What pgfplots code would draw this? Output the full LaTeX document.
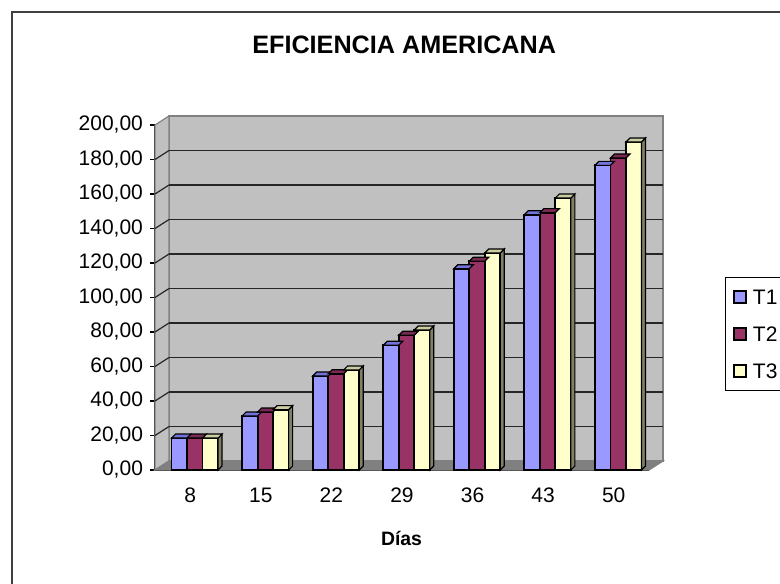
\documentclass[border=0pt]{standalone}
\usepackage{pgfplots}
\usepackage{pgfplotstable}
\pgfplotsset{compat=1.18}
\usepackage{fontspec}
\setmainfont{Liberation Sans}
\definecolor{cA}{HTML}{9999FF}
\definecolor{cB}{HTML}{993366}
\definecolor{cC}{HTML}{FFFFCC}
\definecolor{cAtop}{HTML}{7373D9}
\definecolor{cBtop}{HTML}{7A2952}
\definecolor{cCtop}{HTML}{CCCCA3}
\definecolor{cCside}{HTML}{808066}
\definecolor{wall}{HTML}{C0C0C0}
\definecolor{floorc}{HTML}{808080}

\pgfplotstableread{
x T1 T2 T3
0 18.5 18.5 18.5
1 31.3 33.6 35.0
2 54.5 55.8 58.0
3 72.3 78.1 81.2
4 116.7 121.0 125.8
5 148.0 149.2 157.7
6 176.6 180.9 190.1
}\data

\pgfdeclareplotmark{faceA}{%
  \filldraw[fill=cAtop, draw=black, line width=0.6pt] (-9.375pt,0pt) -- (-1.625pt,0pt) -- (0.375pt,2pt) -- (-7.375pt,2pt) -- cycle;
}
\pgfdeclareplotmark{faceB}{%
  \filldraw[fill=cBtop, draw=black, line width=0.6pt] (-1.625pt,0pt) -- (6.125pt,0pt) -- (8.125pt,2pt) -- (0.375pt,2pt) -- cycle;
}
\pgfdeclareplotmark{faceC}{%
  \pgfmathsetlengthmacro\hh{\ry*0.8625pt}%
  \filldraw[fill=cCside, draw=black, line width=0.6pt] (13.875pt,0pt) -- (15.875pt,2pt) -- (15.875pt,2pt-\hh) -- (13.875pt,-\hh) -- cycle;
  \filldraw[fill=cCtop, draw=black, line width=0.6pt] (6.125pt,0pt) -- (13.875pt,0pt) -- (15.875pt,2pt) -- (8.125pt,2pt) -- cycle;
}

\begin{document}
\begin{tikzpicture}
\useasboundingbox (0,0) rectangle (390pt,291.5pt);
\draw[line width=1pt, color=black!75] (6pt,285.5pt) rectangle (400pt,-10pt);
\node[font=\fontsize{12.6}{14}\selectfont\bfseries, anchor=base] at (202.1pt,264.5pt) {EFICIENCIA AMERICANA};
\node[font=\fontsize{9.7}{11}\selectfont\bfseries, anchor=base] at (200.75pt,19pt) {Días};
\begin{axis}[
  at={(77.5pt,56.5pt)}, anchor=south west,
  scale only axis, width=247pt, height=172.5pt,
  xmin=-0.5, xmax=6.5, ymin=0, ymax=200,
  clip=false,
  axis lines*=left,
  axis line style={black, line width=0.6pt},
  xtick={0,...,6},
  xticklabels={8,15,22,29,36,43,50},
  xticklabel style={yshift=-3pt},
  major x tick style={draw=none},
  extra x ticks={-0.5,0.5,...,6.5},
  extra x tick labels={},
  extra x tick style={major tick length=3.25pt, tick align=outside, major tick style={draw=black, line width=0.6pt}},
  ytick={0,20,...,200},
  y tick style={black, line width=0.6pt},
  major tick length=2.5pt,
  tick align=outside,
  /pgf/number format/assume math mode=true,
  yticklabel={\pgfmathprintnumber[fixed, fixed zerofill, precision=2, use comma, 1000 sep={}]{\tick}},
  tick label style={font=\fontsize{10.5}{12}\selectfont},
  legend style={at={(axis description cs:1.1538,0.5594)}, anchor=north west, draw=black, line width=0.5pt,
    font=\fontsize{10.5}{12}\selectfont, inner xsep=4pt, inner ysep=6pt, row sep=11pt,
    nodes={inner sep=0pt, text height=7.5pt, text depth=0pt}},
  legend cell align=left,
  legend image code/.code={\draw[#1, draw=black, line width=0.6pt] (0pt,-3pt) rectangle (6pt,3pt); \path (9pt,0pt);},
]
  \filldraw[fill=wall, draw=floorc, line width=0.6pt] ([shift={(7pt,4.5pt)}]axis cs:-0.5,0) rectangle ([shift={(7pt,4.5pt)}]axis cs:6.5,200);
  \filldraw[fill=wall, draw=floorc, line width=0.6pt] (axis cs:-0.5,0) -- (axis cs:-0.5,200) -- ([shift={(7pt,4.5pt)}]axis cs:-0.5,200) -- ([shift={(7pt,4.5pt)}]axis cs:-0.5,0) -- cycle;
  \filldraw[fill=floorc, draw=floorc, line width=0.6pt] (axis cs:-0.5,0) -- (axis cs:6.5,0) -- ([shift={(7pt,4.5pt)}]axis cs:6.5,0) -- ([shift={(7pt,4.5pt)}]axis cs:-0.5,0) -- cycle;
  \pgfplotsinvokeforeach{20,40,...,180}{
    \draw[black!85, line width=0.6pt] ([shift={(7pt,4.5pt)}]axis cs:-0.5,#1) -- ([shift={(7pt,4.5pt)}]axis cs:6.5,#1);
    \draw[black!85, line width=0.6pt] (axis cs:-0.5,#1) -- ([shift={(7pt,4.5pt)}]axis cs:-0.5,#1);
  }
\addplot[ybar, bar width=7.75pt, bar shift=-5.5pt, fill=cA, draw=black, line width=0.9pt] table[x=x,y=T1]{\data};
\addlegendentry{T1\hspace{8pt}}
\addplot[forget plot, only marks, mark=faceA, visualization depends on={rawy \as \ry}] table[x=x,y=T1]{\data};
\addplot[ybar, bar width=7.75pt, bar shift=2.25pt, fill=cB, draw=black, line width=0.9pt] table[x=x,y=T2]{\data};
\addlegendentry{T2\hspace{8pt}}
\addplot[forget plot, only marks, mark=faceB, visualization depends on={rawy \as \ry}] table[x=x,y=T2]{\data};
\addplot[ybar, bar width=7.75pt, bar shift=10pt, fill=cC, draw=black, line width=0.9pt] table[x=x,y=T3]{\data};
\addlegendentry{T3\hspace{8pt}}
\addplot[forget plot, only marks, mark=faceC, visualization depends on={rawy \as \ry}] table[x=x,y=T3]{\data};
\end{axis}
\end{tikzpicture}
\end{document}
